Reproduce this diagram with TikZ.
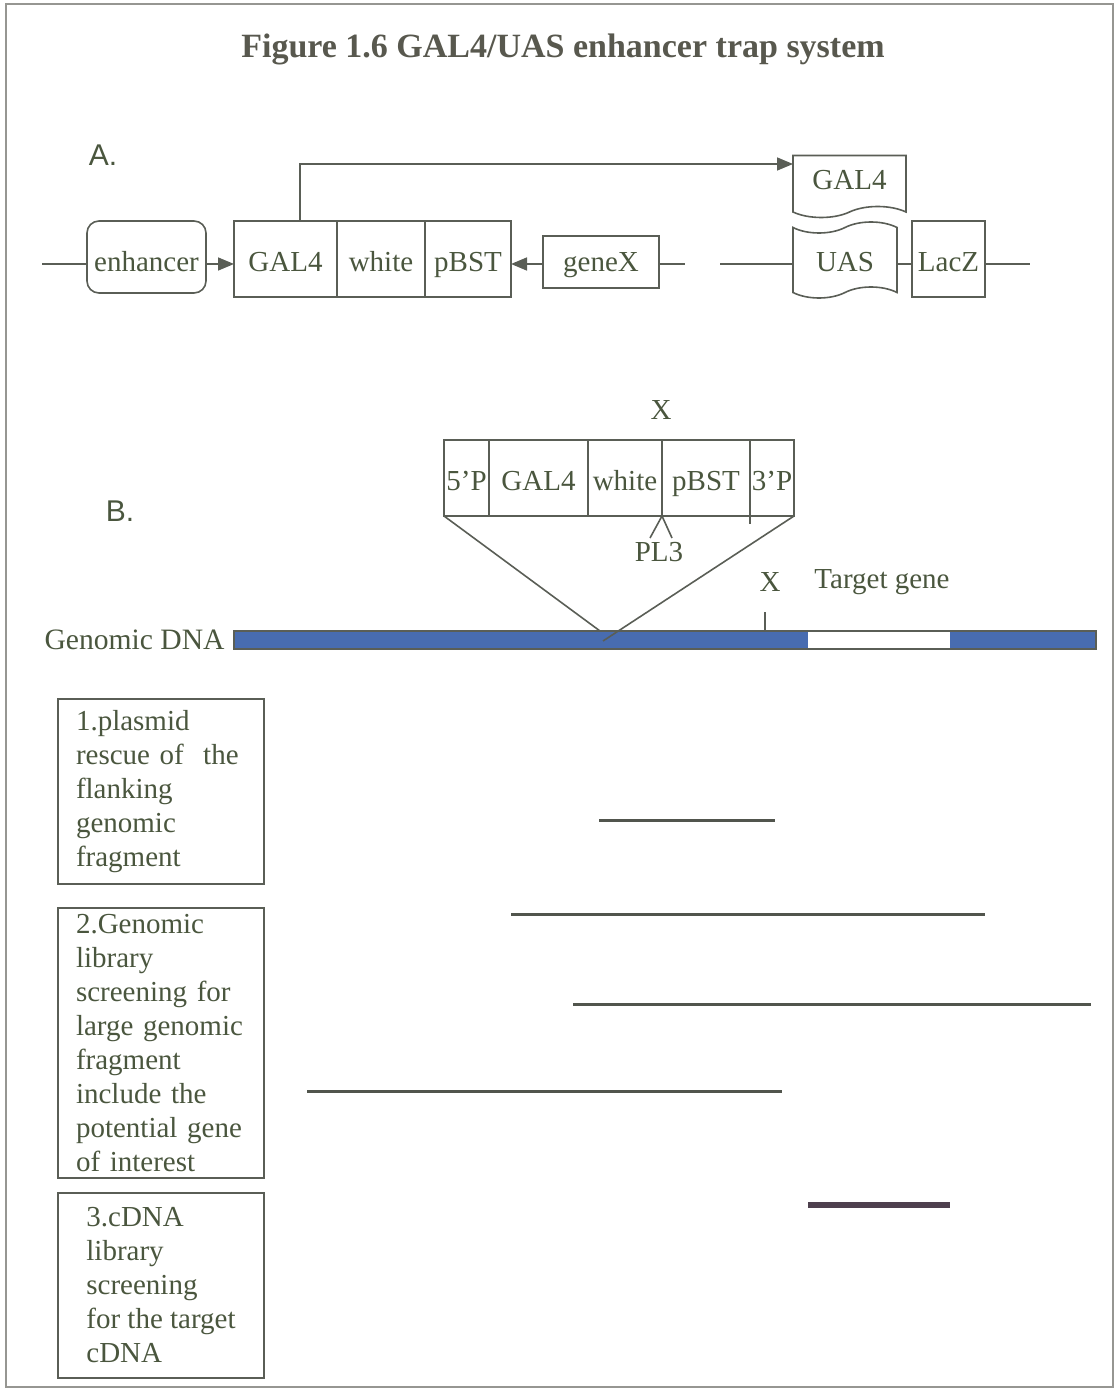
\documentclass[tikz,border=0pt]{standalone}
\usepackage{fontspec}
\setmainfont{Liberation Serif}
\newfontfamily\panelfont{Liberation Sans}
\usetikzlibrary{arrows.meta, shapes.symbols, positioning}
\definecolor{inkgreen}{RGB}{74,86,62}
\definecolor{titlegray}{RGB}{88,88,78}
\definecolor{linegray}{RGB}{90,94,86}
\definecolor{dnablue}{RGB}{72,108,176}
\definecolor{fragdark}{RGB}{78,64,78}
\definecolor{framegray}{RGB}{150,150,146}
\tikzset{
    every node/.style = {text=inkgreen, font=\fontsize{14.5}{17}\selectfont},
    dna line/.style = {draw=linegray, line width=0.8pt},
    gene box/.style = {
        draw=linegray, line width=0.8pt,
        inner sep=0pt, outer sep=0pt, minimum height=38pt,
        text height=13pt, text depth=0pt
    },
    enh box/.style = {gene box, rounded corners=6pt, text height=15pt},
    tape box/.style = {
        gene box, shape=tape, tape bend height=5.5pt
    },
    step box/.style = {
        draw=linegray, line width=0.8pt, align=left,
        minimum width=103pt, inner ysep=0pt
    },
    panel label/.style = {font=\panelfont\fontsize{15}{18}\selectfont},
    arr/.style = {dna line, -{Triangle[length=8pt, width=6.5pt]}},
    frag/.style = {draw=linegray!90!black, line width=1.5pt}
}

\begin{document}
\begin{tikzpicture}[x=0.5pt, y=-0.5pt]
    \useasboundingbox (0,0) rectangle (1117,1390);
    \draw[framegray, line width=1pt] (6,4) rectangle (1113,1387);

    \node[text=titlegray, font=\fontsize{17}{20}\selectfont\bfseries] (title) at (563,49)
        {Figure 1.6 GAL4/UAS enhancer trap system};

    % A. the enhancer trap and the reporter
    \node[panel label] (pa) at (103,155) {A.};
    \coordinate (dnaL) at (42,264);
    \coordinate (dnaM) at (685,264);
    \coordinate (dnaN) at (720,264);
    \coordinate (dnaR) at (1030,264);
    \coordinate (bend) at (300,164);

    \node[enh box, minimum width=59.5pt, minimum height=36pt] (enh) at (146.5,257) {enhancer};
    \node[gene box, minimum width=51.5pt] (galA) at (285.5,259) {GAL4};
    \node[gene box, minimum width=44pt, right=0pt of galA] (whA) {white};
    \node[gene box, minimum width=43pt, right=0pt of whA] (pbA) {pBST};
    \node[gene box, minimum width=58pt, minimum height=26pt, text height=10pt] (gx) at (601,262) {geneX};
    \node[tape box, tape bend top=none, minimum width=56.5pt, minimum height=31pt,
          text height=9pt] (galB) at (849.5,181) {GAL4};
    \node[tape box, minimum width=52pt, text height=12pt] (uas) at (845,260) {UAS};
    \node[gene box, minimum width=36.5pt] (lacz) at (948.5,259) {LacZ};

    \draw[dna line] (dnaL) -- (dnaL -| enh.west);
    \draw[arr] (enh.east |- dnaL) -- (galA.west |- dnaL);
    \draw[arr] (gx.west |- dnaL) -- (pbA.east |- dnaL);
    \draw[dna line] (gx.east |- dnaL) -- (dnaM);
    \draw[dna line] (dnaN) -- (uas.west |- dnaN);
    \draw[dna line] (uas.east |- dnaN) -- (lacz.west |- dnaN);
    \draw[dna line] (lacz.east |- dnaN) -- (dnaR);
    \draw[arr] (galA.north -| bend) -- (bend) -- (galB.west |- bend);

    % B. insertion into the genome
    \node[panel label] (pb) at (120,511) {B.};
    \node (xa) at (661,410) {X};
    \node[gene box, minimum width=22.5pt, text height=12pt] (fp) at (466.5,478) {5’P};
    \node[gene box, minimum width=49.5pt, text height=12pt, right=0pt of fp] (galC) {GAL4};
    \node[gene box, minimum width=37pt, text height=12pt, right=0pt of galC] (whC) {white};
    \node[gene box, minimum width=44pt, text height=12pt, right=0pt of whC] (pbC) {pBST};
    \node[gene box, minimum width=22pt, text height=12pt, right=0pt of pbC] (tp) {3’P};
    \draw[dna line] (tp.south west) -- ++(0,8);

    \node (pl) at (659,552) {PL3};
    \coordinate (plL) at (650,538);
    \coordinate (plR) at (672,538);
    \draw[dna line] (plL) -- (pbC.south west) -- (plR);

    \node[anchor=east, inner xsep=0pt, font=\fontsize{14.8}{18}\selectfont] (gd) at (225,640) {Genomic DNA};
    \fill[dnablue] (234,631) rectangle (1096,649);
    \fill[white] (808,631) rectangle (950,649);
    \draw[linegray, line width=0.6pt] (234,631) rectangle (1096,649);

    \coordinate (insA) at (600,631);
    \coordinate (insB) at (603,641);
    \draw[dna line] (fp.south west) -- (insA);
    \draw[dna line] (tp.south east) -- (insB);

    \coordinate (xt) at (765,632);
    \draw[dna line] (xt) -- ++(0,-20);
    \node (xb) at (770,582) {X};
    \node (tg) at (882,582) {Target gene};

    % cloning steps
    \node[step box, text width=85pt, minimum height=92.5pt] (s1) at (161,791.5)
        {1.plasmid\\rescue of~ the\\flanking\\genomic\\fragment};
    \node[step box, text width=85pt, minimum height=135pt] (s2) at (161,1043)
        {2.Genomic\\library\\screening for\\large genomic\\fragment\\include the\\potential gene\\of interest};
    \node[step box, minimum height=92.5pt] (s3) at (161,1285.5)
        {3.cDNA\\library\\screening\\for the target\\cDNA};

    \draw[frag] (599,820) -- (775,820);
    \draw[frag] (511,914) -- (985,914);
    \draw[frag] (573,1004) -- (1091,1004);
    \draw[frag] (307,1091) -- (782,1091);
    \draw[frag, draw=fragdark, line width=3pt] (808,1205) -- (950,1205);
\end{tikzpicture}
\end{document}
